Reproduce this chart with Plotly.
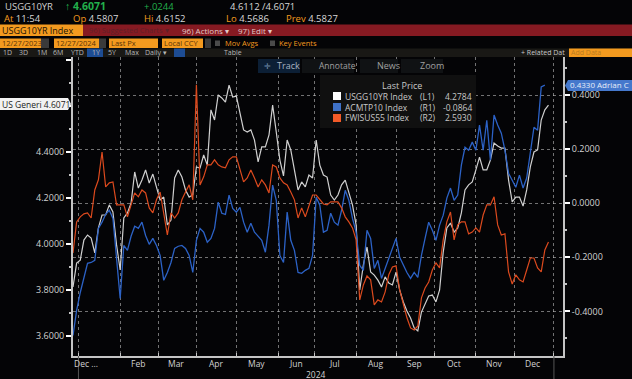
import pandas as pd
import plotly.graph_objects as go

dates = pd.bdate_range("2023-12-27", "2024-12-27", freq="2B")

usgg10yr = [3.813,3.917,3.930,4.017,4.039,4.026,3.961,4.070,4.126,4.126,4.170,4.139,3.996,3.887,4.113,4.135,4.178,4.313,4.243,4.278,
4.322,4.265,4.304,4.248,4.191,4.204,4.083,4.104,4.287,4.322,4.291,4.235,4.204,4.213,4.335,4.330,4.387,4.343,4.583,4.539,
4.648,4.635,4.617,4.691,4.639,4.643,4.561,4.496,4.487,4.496,4.452,4.357,4.422,4.422,4.474,4.604,4.487,4.365,4.296,4.452,
4.409,4.313,4.235,4.270,4.248,4.300,4.287,4.452,4.343,4.300,4.291,4.213,4.191,4.213,4.257,4.278,4.226,4.170,4.083,3.800,
3.909,3.987,3.878,3.865,3.843,3.813,3.857,3.830,3.822,3.878,3.800,3.748,3.709,3.678,3.635,3.622,3.704,3.739,3.774,3.778,
3.748,3.800,3.965,4.070,4.091,4.052,4.070,4.135,4.235,4.257,4.270,4.322,4.378,4.322,4.322,4.365,4.439,4.426,4.417,4.417,
4.278,4.183,4.204,4.204,4.165,4.235,4.335,4.400,4.409,4.539,4.583,4.604]

acmtp10 = [-0.489,-0.396,-0.330,-0.278,-0.222,-0.219,-0.211,-0.093,-0.070,-0.041,-0.026,-0.056,-0.219,-0.352,-0.156,-0.174,-0.122,-0.085,-0.093,-0.070,
-0.119,-0.152,-0.130,-0.156,-0.193,-0.285,-0.256,-0.219,-0.167,-0.159,-0.156,-0.167,-0.193,-0.256,-0.137,-0.093,-0.107,-0.144,-0.130,-0.093,
0.004,-0.037,-0.041,0.030,-0.019,-0.033,-0.015,-0.070,-0.107,-0.074,-0.107,-0.122,-0.137,-0.181,-0.081,0.067,0.011,-0.193,-0.219,-0.033,
-0.137,-0.174,-0.256,-0.259,-0.248,-0.241,-0.193,0.022,-0.007,-0.107,-0.100,-0.037,-0.070,-0.081,-0.026,0.048,0.011,-0.056,-0.107,-0.230,
-0.248,-0.100,-0.130,-0.241,-0.211,-0.278,-0.241,-0.204,-0.167,-0.130,-0.200,-0.230,-0.256,-0.278,-0.256,-0.274,-0.193,-0.130,-0.070,-0.100,
-0.137,-0.081,-0.044,0.019,0.056,0.011,0.030,0.141,0.207,0.196,0.226,0.196,0.289,0.196,0.307,0.159,0.326,0.289,0.259,0.196,
0.111,0.085,0.059,0.104,0.056,0.093,0.196,0.281,0.270,0.430,0.437,None]

fwisus55 = [2.545,2.680,2.702,2.715,2.719,2.697,2.819,2.863,2.984,2.832,2.850,2.854,2.754,2.754,2.754,2.702,2.758,2.806,2.789,2.819,
2.806,2.741,2.719,2.776,2.810,2.719,2.623,2.719,2.697,2.719,2.776,2.810,2.841,2.776,3.276,2.841,2.876,2.928,2.928,2.950,
2.928,2.919,2.915,2.950,2.963,2.963,2.906,2.854,2.871,2.906,2.871,2.832,2.863,2.841,2.806,2.928,2.919,2.871,2.850,2.841,
2.810,2.776,2.697,2.741,2.702,2.754,2.797,2.797,2.776,2.758,2.754,2.767,2.767,2.767,2.741,2.702,2.680,2.654,2.602,2.341,
2.406,2.445,2.428,2.319,2.341,2.332,2.376,2.450,2.484,2.489,2.384,2.319,2.263,2.219,2.210,2.228,2.350,2.393,2.419,2.471,
2.502,2.480,2.602,2.680,2.723,2.602,2.667,2.680,2.680,2.628,2.636,2.654,2.636,2.710,2.754,2.754,2.789,2.667,2.623,2.628,
2.463,2.410,2.450,2.428,2.419,2.471,2.523,2.523,2.480,2.463,2.558,2.593]

left_ticks = [3.6, 3.8, 4.0, 4.2, 4.4, 4.6, 4.8]
left_labels = ["3.6000", "3.8000", "4.0000", "4.2000", "4.4000", "", ""]
left_minor = [3.7, 3.9, 4.1, 4.3, 4.5, 4.7]
right_ticks = [-0.4, -0.2, 0.0, 0.2, 0.4]
right_labels = ["-0.4000", "-0.2000", "0.0000", "0.2000", "0.4000"]
right_minor = [-0.5, -0.3, -0.1, 0.1, 0.3, 0.5]
month_starts = ["2024-01-01","2024-02-01","2024-03-01","2024-04-01","2024-05-01","2024-06-03","2024-07-01",
                "2024-08-01","2024-09-02","2024-10-01","2024-11-01","2024-12-02","2025-01-01"]
month_labels = ["Dec ...","Feb","Mar","Apr","May","Jun","Jul","Aug","Sep","Oct","Nov","Dec"]
month_label_at = ["2024-01-05","2024-02-15","2024-03-15","2024-04-16","2024-05-16","2024-06-17","2024-07-16",
                  "2024-08-16","2024-09-16","2024-10-16","2024-11-15","2024-12-16"]

FONT = "Open Sans"
BG = "#040406"
AXIS = "#c4c4c4"
TXT = "#d2d2d2"
ORG = "#f39a1f"
WHITE_L, BLUE_L, ORANGE_L = "#d0d0d0", "#2c62c6", "#dc4a1e"

def px(x): return x / 632
def py(y): return 1 - y / 379

fig = go.Figure()
fig.add_trace(go.Scatter(x=dates, y=usgg10yr, yaxis="y", mode="lines", line=dict(color=WHITE_L, width=1.2), name="USGG10YR Index"))
fig.add_trace(go.Scatter(x=dates, y=acmtp10, yaxis="y2", mode="lines", line=dict(color=BLUE_L, width=1.3), name="ACMTP10 Index"))
fig.add_trace(go.Scatter(x=dates, y=fwisus55, yaxis="y3", mode="lines", line=dict(color=ORANGE_L, width=1.2), name="FWISUS55 Index"))

shapes, notes = [], []

def rect(x0, y0, x1, y1, color):
    shapes.append(dict(type="rect", xref="paper", yref="paper", x0=px(x0), x1=px(x1), y0=py(y0), y1=py(y1),
                       fillcolor=color, line=dict(width=0), layer="above"))

def text(x, y, s, color=TXT, size=9, anchor="left", bold=False):
    notes.append(dict(xref="paper", yref="paper", x=px(x), y=py(y), text=f"<b>{s}</b>" if bold else s, showarrow=False,
                      xanchor=anchor, yanchor="middle", font=dict(family=FONT, size=size, color=color), borderpad=0))

# header rows
text(4, 6.5, "USGG10YR", "#d0d0d0", 9.5)
text(64, 6.5, "↑ 4.6071", "#22b04c", 10.5, bold=True)
text(143, 6.5, "+.0244", "#22b04c", 9.5)
text(229, 6.5, "4.6112 /4.6071", "#d8d8d8", 9.5)
for x, lab, val in [(3, "At", "11:54"), (72, "Op", "4.5807"), (143, "Hi", "4.6152"), (225, "Lo", "4.5686"), (285, "Prev", "4.5827")]:
    text(x, 18, f"<span style='color:{ORG}'>{lab}</span> {val}", "#d8d8d8", 9.5)
rect(83, 24.5, 632, 36, "#861a22")
rect(0, 24.5, 83, 36, ORG)
text(1, 30.5, "USGG10YR Index", "#1c1204", 9)
text(88, 30.5, "96) Suggested Charts ▾", "#5e2028", 7.5)
text(181, 30.5, "96) Actions ▾", "#e2c8c8", 8)
text(237, 30.5, "97) Edit ▾", "#e2c8c8", 8)
for x0, x1, s in [(0, 41, "12/27/2023"), (54, 99, "12/27/2024"), (109, 158, "Last Px"), (162, 203, "Local CCY")]:
    rect(x0, 38.5, x1, 48, ORG)
    text(x0 + 1, 43.3, s, "#5a3408", 7.5)
rect(41, 38.5, 49, 48, "#3a3a3a")
rect(99, 38.5, 106, 48, "#3a3a3a")
rect(205, 38.5, 211, 48, "#3a3a3a")
rect(215, 40.5, 220, 46, "#4a4a4a")
text(224, 43.3, "Mov Avgs", ORG, 7.5)
rect(270, 40.5, 275, 46, "#4a4a4a")
text(278, 43.3, "Key Events", ORG, 7.5)
rect(0, 48.5, 632, 57, "#191815")
rect(87, 48.5, 103, 57, "#1d4c93")
rect(174, 48.5, 185, 57, "#1d4c93")
for x, s in [(2, "1D"), (18, "3D"), (36, "1M"), (52, "6M"), (70, "YTD"), (91, "1Y"), (107, "5Y"), (124, "Max"), (144, "Daily ▾"), (223, "Table")]:
    text(x, 52.8, s, "#b8b8b8", 7)
text(520, 52.6, "+ Related Dat", "#c8c8c8", 7)
rect(569, 48.5, 632, 57, ORG)
text(570, 52.8, "Add Data", "#b97a20", 7)

# chart toolbar
rect(258, 59, 300, 73, "#0c1f35")
rect(302, 59, 354, 73, "#101214")
rect(360, 59, 398, 73, "#101214")
rect(401, 59, 443, 73, "#101214")
text(263, 65.5, "✛", "#6f8aa8", 8)
text(276, 65.5, "Track", "#a9b4c0", 9)
text(318, 65.5, "Annotate", "#a0a0a0", 8.5)
text(376, 65.5, "News", "#a0a0a0", 9)
text(419, 65.5, "Zoom", "#a0a0a0", 9)

# legend
rect(320, 75, 476, 128, "#101010")
text(402, 86, "Last Price", "#c8c8c8", 9, anchor="center")
for y, sw, name, code, val in [(96, "#ffffff", "USGG10YR Index", "(L1)", "4.2784"),
                               (107, "#3f72c8", "ACMTP10 Index", "(R1)", "-0.0864"),
                               (118, "#f25a28", "FWISUS55 Index", "(R2)", "2.5930")]:
    rect(333, y - 4, 341, y + 4, sw)
    text(344, y, name, "#c8c8c8", 8.5)
    text(428, y, code, "#c8c8c8", 8.5, anchor="center")
    text(473, y, val, "#c8c8c8", 8.5, anchor="right")

# price tags
shapes.append(dict(type="path", xref="paper", yref="paper", fillcolor="#f2f2f2", line=dict(width=0), layer="above",
    path=f"M {px(0)} {py(98)} L {px(68)} {py(98)} L {px(71)} {py(104)} L {px(68)} {py(110)} L {px(0)} {py(110)} Z"))
text(1, 104, "US Generi 4.6071", "#222222", 8.5)
shapes.append(dict(type="path", xref="paper", yref="paper", fillcolor="#4578cc", line=dict(width=0), layer="above",
    path=f"M {px(565)} {py(85.5)} L {px(568)} {py(80)} L {px(632)} {py(80)} L {px(632)} {py(91)} L {px(568)} {py(91)} Z"))
text(569, 85, "0.4330 Adrian C", "#e8eef8", 8)

# month labels
for d, s in zip(month_label_at, month_labels):
    notes.append(dict(xref="x", yref="paper", x=d, y=py(363.5), text=s, showarrow=False, xanchor="center", yanchor="middle",
                      font=dict(family=FONT, size=8.5, color=TXT)))
text(316, 374, "2024", TXT, 8.5, anchor="center")
for d in (month_starts[0], month_starts[-1]):
    shapes.append(dict(type="line", xref="x", yref="paper", x0=d, x1=d, y0=py(356), y1=0,
                       line=dict(color="#555555", width=1), layer="above"))

fig.update_layout(
    width=632, height=379, autosize=False, showlegend=False, hovermode=False,
    margin=dict(l=0, r=0, t=0, b=0), paper_bgcolor=BG, plot_bgcolor=BG,
    shapes=shapes, annotations=notes,
    xaxis=dict(domain=[px(73), px(563)], type="date", range=["2023-12-27", "2025-01-08"],
               rangebreaks=[dict(bounds=["sat", "mon"])],
               tickmode="array", tickvals=month_starts, ticktext=[""] * len(month_starts),
               ticks="inside", ticklen=3, tickcolor=AXIS, showline=True, linecolor=AXIS, linewidth=2,
               showgrid=True, gridcolor="rgba(205,205,205,0.55)", griddash="dot", gridwidth=1, zeroline=False),
    yaxis=dict(domain=[py(356), py(57)], range=[3.513, 4.813], tickmode="array", tickvals=left_ticks, ticktext=left_labels,
               ticks="outside", ticklen=5, tickwidth=2, tickcolor="#ffffff", showline=True, linecolor=AXIS, linewidth=2,
               showgrid=False, zeroline=False, tickfont=dict(family=FONT, size=9, color=TXT),
               minor=dict(tickmode="array", tickvals=left_minor, ticks="outside", ticklen=2, tickcolor=AXIS, showgrid=False)),
    yaxis2=dict(domain=[py(356), py(57)], range=[-0.5648, 0.5407], overlaying="y", side="right", anchor="x",
                tickmode="array", tickvals=right_ticks, ticktext=right_labels,
                ticks="outside", ticklen=5, tickwidth=2, tickcolor="#ffffff", showline=True, linecolor=AXIS, linewidth=2,
                showgrid=True, gridcolor="rgba(205,205,205,0.55)", griddash="dot", gridwidth=1, zeroline=False,
                tickfont=dict(family=FONT, size=9, color=TXT),
                minor=dict(tickmode="array", tickvals=right_minor, ticks="outside", ticklen=2, tickcolor=AXIS, showgrid=False)),
    yaxis3=dict(domain=[py(356), py(57)], range=[2.097, 3.397], overlaying="y", visible=False, anchor="x"),
)

fig.write_html("out.html", config=dict(displayModeBar=False),
               post_script="document.documentElement.style.background='#040406';document.body.style.margin='0';document.documentElement.style.overflow='hidden';")
